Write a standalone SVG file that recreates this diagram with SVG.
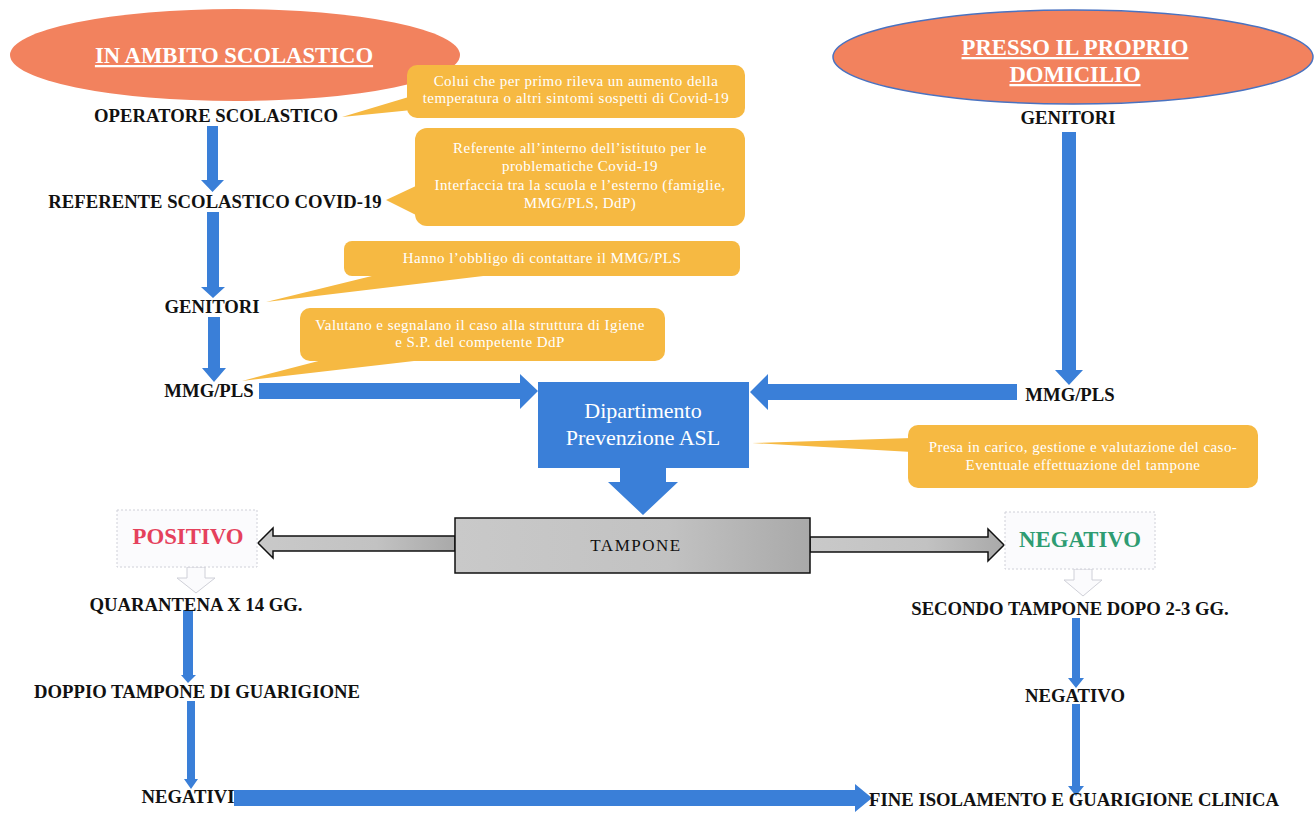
<svg xmlns="http://www.w3.org/2000/svg" width="1316" height="814" viewBox="0 0 1316 814">
<style>
.lbl{font-family:"Liberation Serif","Times New Roman",serif;font-weight:bold;font-size:18.7px;fill:#111;text-anchor:middle}
.title{font-family:"Liberation Serif","Times New Roman",serif;font-weight:bold;font-size:22.7px;fill:#fff;text-anchor:middle;text-decoration:underline}
.co{fill:#F6B942}
.cot{font-family:"Liberation Serif","Times New Roman",serif;font-size:15px;letter-spacing:0.45px;fill:#fff;text-anchor:middle}
.blue{fill:#3A7FD8}
.gray{fill:url(#gg);stroke:#111;stroke-width:1.5}
.lite{fill:#fbfbfd;stroke:#cfd0d8;stroke-width:1}
.dbox{fill:#fbfbfd;stroke:#cfd0d8;stroke-width:1;stroke-dasharray:2 2}
</style>
<defs>
<linearGradient id="gg" x1="0" y1="0" x2="1" y2="0">
<stop offset="0" stop-color="#c9c9c9"/>
<stop offset="0.6" stop-color="#c2c2c2"/>
<stop offset="1" stop-color="#a9a9a9"/>
</linearGradient>
</defs>
<rect width="1316" height="814" fill="#fff"/>

<g id="connectors">
<polygon class="blue" points="207,126 218,126 218,180 224,180 212.5,192 201,180 207,180"/>
<polygon class="blue" points="207,212 219,212 219,287 225,287 213,298 201,287 207,287"/>
<polygon class="blue" points="208,317 220,317 220,368 226,368 214,382 202,368 208,368"/>
<polygon class="blue" points="1062,132 1076,132 1076,370 1083,370 1069,385 1055,370 1062,370"/>
<polygon class="blue" points="259,383 520,383 520,374 538,391 520,409 520,399 259,399"/>
<polygon class="blue" points="1017,384 768,384 768,374 750,392 768,410 768,400 1017,400"/>
<polygon class="blue" points="620,468 666,468 666,482 678,482 643,515 608,482 620,482"/>
<polygon class="gray" points="455,536 273,536 273,528 258,543 273,558 273,551 455,551"/>
<polygon class="gray" points="810,537 988,537 988,529 1004,545 988,561 988,552 810,552"/>
<polygon class="lite" points="187,567 205,567 205,578 215,578 196,593 177,578 187,578"/>
<polygon class="lite" points="1074,569 1092,569 1092,580 1102,580 1083,596 1064,580 1074,580"/>
<polygon class="blue" points="183,610 193,610 193,675 196,675 188,683 181,675 183,675"/>
<polygon class="blue" points="187,701 195,701 195,779 198,779 191,789 184,779 187,779"/>
<polygon class="blue" points="1072,618 1080,618 1080,678 1084,678 1076,688 1068,678 1072,678"/>
<polygon class="blue" points="1072,704 1080,704 1080,786 1084,786 1076,796 1068,786 1072,786"/>
<polygon class="blue" points="234,790 855,790 855,784 872,798 855,812 855,806 234,806"/>
</g>

<g id="title-scuola">
<ellipse cx="235" cy="55" rx="225" ry="46" fill="#F2825E"/>
<text class="title" x="234" y="63">IN AMBITO SCOLASTICO</text>
</g>
<g id="title-domicilio">
<ellipse cx="1073" cy="57" rx="240" ry="47" fill="#F2825E" stroke="#4a72c0" stroke-width="1.5"/>
<text class="title" x="1075" y="55">PRESSO IL PROPRIO</text>
<text class="title" x="1075" y="82">DOMICILIO</text>
</g>

<g id="operatore"><text class="lbl" x="216" y="122">OPERATORE SCOLASTICO</text></g>
<g id="referente"><text class="lbl" x="215" y="208">REFERENTE SCOLASTICO COVID-19</text></g>
<g id="genitori-s"><text class="lbl" x="212" y="313">GENITORI</text></g>
<g id="mmg-s"><text class="lbl" x="209" y="397">MMG/PLS</text></g>
<g id="genitori-d"><text class="lbl" x="1068" y="124">GENITORI</text></g>
<g id="mmg-d"><text class="lbl" x="1070" y="401">MMG/PLS</text></g>

<g id="callout-operatore">
<polygon class="co" points="412,96 342,117 412,110"/>
<rect class="co" x="407" y="65" width="338" height="53" rx="10"/>
<text class="cot" x="576" y="86">Colui che per primo rileva un aumento della</text>
<text class="cot" x="576" y="103">temperatura o altri sintomi sospetti di Covid-19</text>
</g>
<g id="callout-referente">
<polygon class="co" points="418,185 386,200 418,216"/>
<rect class="co" x="415" y="128" width="330" height="98" rx="12"/>
<text class="cot" x="580" y="153">Referente all’interno dell’istituto per le</text>
<text class="cot" x="580" y="171">problematiche Covid-19</text>
<text class="cot" x="580" y="190">Interfaccia tra la scuola e l’esterno (famiglie,</text>
<text class="cot" x="580" y="208">MMG/PLS, DdP)</text>
</g>
<g id="callout-genitori">
<polygon class="co" points="380,274 266,302 500,274"/>
<rect class="co" x="344" y="241" width="396" height="35" rx="8"/>
<text class="cot" x="542" y="263">Hanno l’obbligo di contattare il MMG/PLS</text>
</g>
<g id="callout-mmg">
<polygon class="co" points="330,358 242,381 440,358"/>
<rect class="co" x="300" y="308" width="365" height="53" rx="10"/>
<text class="cot" x="480" y="330">Valutano e segnalano il caso alla struttura di Igiene</text>
<text class="cot" x="480" y="347">e S.P. del competente DdP</text>
</g>
<g id="callout-dip">
<polygon class="co" points="912,438 752,443 912,452"/>
<rect class="co" x="908" y="425" width="350" height="63" rx="10"/>
<text class="cot" x="1083" y="452">Presa in carico, gestione e valutazione del caso-</text>
<text class="cot" x="1083" y="470">Eventuale effettuazione del tampone</text>
</g>

<g id="dipartimento">
<rect x="538" y="382" width="211" height="86" class="blue"/>
<text x="643" y="418" font-family="Liberation Serif,serif" font-size="22" fill="#fff" text-anchor="middle">Dipartimento</text>
<text x="643" y="445" font-family="Liberation Serif,serif" font-size="22" fill="#fff" text-anchor="middle">Prevenzione ASL</text>
</g>
<g id="tampone">
<rect x="455" y="518" width="355" height="55" class="gray"/>
<text x="636" y="551" font-family="Liberation Serif,serif" font-size="17" letter-spacing="1.5" fill="#111" text-anchor="middle">TAMPONE</text>
</g>
<g id="positivo">
<rect x="117" y="510" width="140" height="57" class="dbox"/>
<text x="188" y="544" font-family="Liberation Serif,serif" font-weight="bold" font-size="22.8" fill="#E5415C" text-anchor="middle">POSITIVO</text>
</g>
<g id="negativo">
<rect x="1005" y="512" width="150" height="57" class="dbox"/>
<text x="1080" y="547" font-family="Liberation Serif,serif" font-weight="bold" font-size="22.8" fill="#2E9C72" text-anchor="middle">NEGATIVO</text>
</g>

<g id="quarantena"><text class="lbl" x="196" y="611">QUARANTENA X 14 GG.</text></g>
<g id="doppio"><text class="lbl" x="197" y="698">DOPPIO TAMPONE DI GUARIGIONE</text></g>
<g id="negativi"><text class="lbl" x="188" y="803">NEGATIVI</text></g>
<g id="secondo"><text class="lbl" x="1070" y="615">SECONDO TAMPONE DOPO 2-3 GG.</text></g>
<g id="negativo2"><text class="lbl" x="1075" y="702">NEGATIVO</text></g>
<g id="fine"><text class="lbl" x="1074" y="806">FINE ISOLAMENTO E GUARIGIONE CLINICA</text></g>
</svg>
